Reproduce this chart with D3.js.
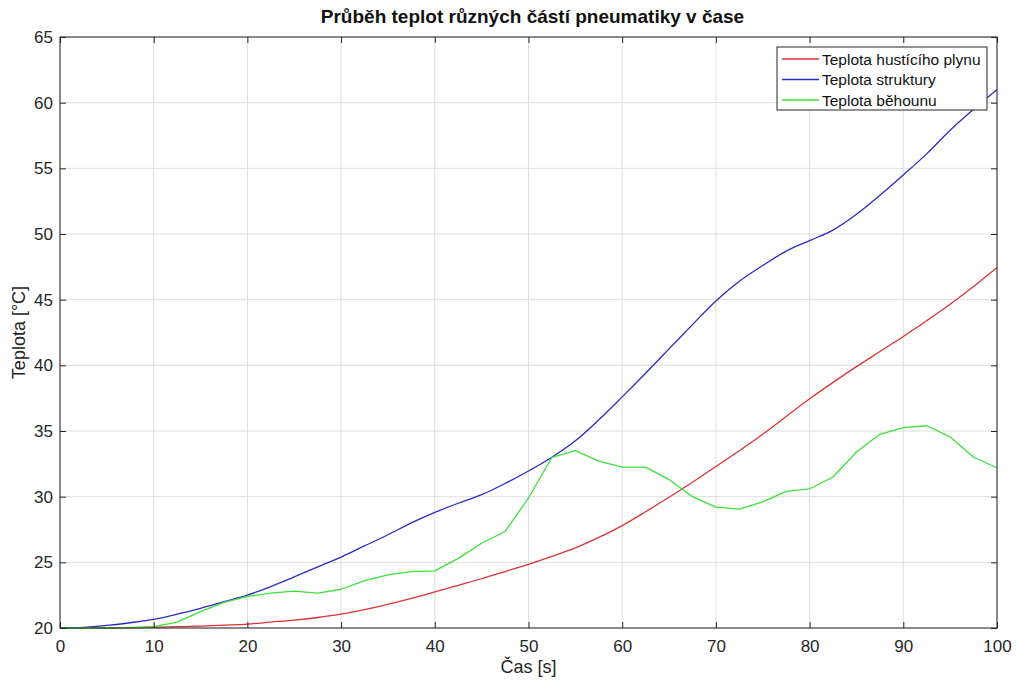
<!DOCTYPE html>
<html>
<head>
<meta charset="utf-8">
<script src="https://cdn.jsdelivr.net/npm/d3@7"></script>
<style>
  body { margin: 0; background: #fff; }
  svg { display: block; font-family: "Liberation Sans", Arial, Helvetica, sans-serif; }
</style>
</head>
<body>
<svg id="chart" width="1016" height="680"></svg>
<script>
// Time samples [s]
const time = [0, 2.5, 5, 7.5, 10, 12.5, 15, 17.5, 20, 22.5, 25, 27.5, 30, 32.5, 35, 37.5, 40,
  42.5, 45, 47.5, 50, 52.5, 55, 57.5, 60, 62.5, 65, 67.5, 70, 72.5, 75, 77.5, 80,
  82.5, 85, 87.5, 90, 92.5, 95, 97.5, 100];

// Inflation gas temperature [°C]
const gasTemp = [20, 20, 20, 20.02, 20.05, 20.1, 20.15, 20.22, 20.3, 20.45, 20.6, 20.8, 21.05,
  21.4, 21.8, 22.25, 22.75, 23.25, 23.75, 24.3, 24.85, 25.45, 26.1, 26.9, 27.8,
  28.85, 29.95, 31.1, 32.3, 33.5, 34.75, 36.1, 37.45, 38.7, 39.9, 41.05, 42.2,
  43.4, 44.65, 46.0, 47.45];

// Structure temperature [°C]
const structTemp = [20, 20.05, 20.2, 20.4, 20.65, 21.05, 21.5, 22.0, 22.5, 23.15, 23.9, 24.65,
  25.4, 26.25, 27.1, 28.0, 28.8, 29.5, 30.15, 31.0, 31.95, 33.0, 34.25, 35.85,
  37.6, 39.4, 41.25, 43.1, 44.9, 46.4, 47.6, 48.7, 49.5, 50.3, 51.5, 52.95,
  54.5, 56.1, 57.9, 59.5, 61.0];

// Tread temperature [°C]
const treadTemp = [20, 20, 20, 20.02, 20.1, 20.45, 21.25, 21.95, 22.4, 22.65, 22.8, 22.65,
  22.95, 23.6, 24.05, 24.3, 24.35, 25.3, 26.45, 27.35, 29.9, 33.0, 33.5, 32.7,
  32.25, 32.25, 31.3, 30.0, 29.2, 29.05, 29.6, 30.4, 30.6, 31.5, 33.4, 34.75,
  35.25, 35.4, 34.55, 33.0, 32.2];

const seriesNames = ["Teplota hustícího plynu", "Teplota struktury", "Teplota běhounu"];
const seriesColors = ["#dc3434", "#2b2bc4", "#3ee03e"];
const xTicks = [0, 10, 20, 30, 40, 50, 60, 70, 80, 90, 100];
const yTicks = [20, 25, 30, 35, 40, 45, 50, 55, 60, 65];

const svg = d3.select("#chart");
const plotLeft = 60, plotRight = 997, plotTop = 37, plotBottom = 628;

const x = d3.scaleLinear().domain([0, 100]).range([plotLeft, plotRight]);
const y = d3.scaleLinear().domain([20, 65]).range([plotBottom, plotTop]);

const axisColor = "#262626";
const gridColor = "#dedede";

// grid
const grid = svg.append("g");
grid.selectAll(".gx").data(xTicks).join("line")
  .attr("x1", d => x(d)).attr("x2", d => x(d))
  .attr("y1", plotTop).attr("y2", plotBottom)
  .attr("stroke", gridColor).attr("stroke-width", 1);
grid.selectAll(".gy").data(yTicks).join("line")
  .attr("x1", plotLeft).attr("x2", plotRight)
  .attr("y1", d => y(d)).attr("y2", d => y(d))
  .attr("stroke", gridColor).attr("stroke-width", 1);

// data lines
const series = [
  { values: gasTemp, curve: d3.curveMonotoneX },
  { values: structTemp, curve: d3.curveMonotoneX },
  { values: treadTemp, curve: d3.curveLinear }
];
series.forEach((s, i) => {
  const line = d3.line()
    .x((d, j) => x(time[j]))
    .y(d => y(d))
    .curve(s.curve);
  svg.append("path")
    .datum(s.values)
    .attr("d", line)
    .attr("fill", "none")
    .attr("stroke", seriesColors[i])
    .attr("stroke-width", 1.3)
    .attr("stroke-linejoin", "round");
});

// axes with inward ticks on all four sides
const tickLen = 6;
const styleAxis = g => {
  g.select(".domain").remove();
  g.selectAll(".tick line").attr("stroke", axisColor);
  g.selectAll(".tick text").attr("fill", axisColor).attr("font-size", 17)
    .attr("font-family", "Liberation Sans, Arial, sans-serif");
};
svg.append("g").attr("transform", `translate(0,${plotBottom})`)
  .call(d3.axisBottom(x).tickValues(xTicks).tickSize(-tickLen).tickPadding(12).tickFormat(d3.format("d")))
  .call(styleAxis);
svg.append("g").attr("transform", `translate(0,${plotTop})`)
  .call(d3.axisTop(x).tickValues(xTicks).tickSize(-tickLen).tickFormat(""))
  .call(styleAxis);
svg.append("g").attr("transform", `translate(${plotLeft},0)`)
  .call(d3.axisLeft(y).tickValues(yTicks).tickSize(-tickLen).tickPadding(7).tickFormat(d3.format("d")))
  .call(styleAxis);
svg.append("g").attr("transform", `translate(${plotRight},0)`)
  .call(d3.axisRight(y).tickValues(yTicks).tickSize(-tickLen).tickFormat(""))
  .call(styleAxis);

// frame
svg.append("rect")
  .attr("x", plotLeft).attr("y", plotTop)
  .attr("width", plotRight - plotLeft).attr("height", plotBottom - plotTop)
  .attr("fill", "none").attr("stroke", axisColor).attr("stroke-width", 1);

// title and axis labels
svg.append("text")
  .attr("x", (plotLeft + plotRight) / 2 + 4).attr("y", 23)
  .attr("text-anchor", "middle")
  .attr("font-size", 19).attr("font-weight", "bold").attr("fill", "#111")
  .text("Průběh teplot různých částí pneumatiky v čase");
svg.append("text")
  .attr("x", (plotLeft + plotRight) / 2).attr("y", 673)
  .attr("text-anchor", "middle")
  .attr("font-size", 18).attr("fill", axisColor)
  .text("Čas [s]");
svg.append("text")
  .attr("transform", `translate(25,${(plotTop + plotBottom) / 2}) rotate(-90)`)
  .attr("text-anchor", "middle")
  .attr("font-size", 18).attr("fill", axisColor)
  .text("Teplota [°C]");

// legend
const lg = svg.append("g");
lg.append("rect")
  .attr("x", 777).attr("y", 47).attr("width", 210).attr("height", 63)
  .attr("fill", "#fff").attr("stroke", axisColor).attr("stroke-width", 1);
seriesNames.forEach((name, i) => {
  const cy = 59 + i * 20.5;
  lg.append("line")
    .attr("x1", 782).attr("x2", 819)
    .attr("y1", cy).attr("y2", cy)
    .attr("stroke", seriesColors[i]).attr("stroke-width", 1.3);
  lg.append("text")
    .attr("x", 822).attr("y", cy + 5.5)
    .attr("font-size", 15.5).attr("fill", "#111")
    .text(name);
});
</script>
</body>
</html>
